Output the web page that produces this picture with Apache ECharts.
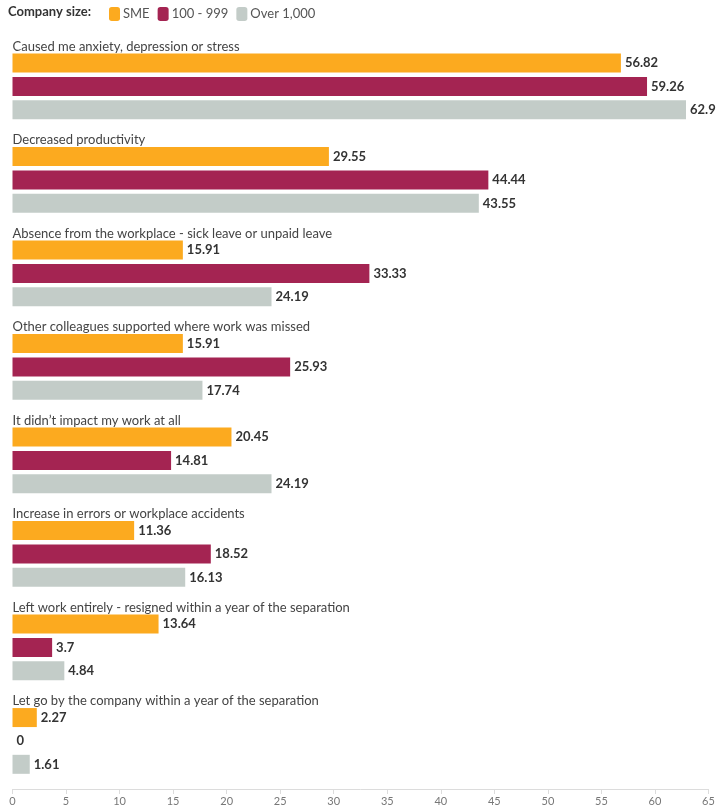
<!DOCTYPE html>
<html>
<head>
<meta charset="utf-8">
<script src="https://cdn.jsdelivr.net/npm/echarts@6/dist/echarts.min.js"></script>
<style>
  html, body { margin: 0; padding: 0; background: #fff; }
  #chart { width: 718px; height: 812px; }
</style>
</head>
<body>
<div id="chart"></div>
<script>
// Survey answers, grouped by company size
const categories = [
  'Caused me anxiety, depression or stress',
  'Decreased productivity',
  'Absence from the workplace - sick leave or unpaid leave',
  'Other colleagues supported where work was missed',
  'It didn\u2019t impact my work at all',
  'Increase in errors or workplace accidents',
  'Left work entirely - resigned within a year of the separation',
  'Let go by the company within a year of the separation'
];
const seriesNames = ['SME', '100 - 999', 'Over 1,000'];
const smeValues   = [56.82, 29.55, 15.91, 15.91, 20.45, 11.36, 13.64, 2.27];
const midValues   = [59.26, 44.44, 33.33, 25.93, 14.81, 18.52, 3.7, 0];
const largeValues = [62.9, 43.55, 24.19, 17.74, 24.19, 16.13, 4.84, 1.61];
const xTicks = { min: 0, max: 65, interval: 5 };

const colors = ['#FCAA1F', '#A42452', '#C3CCC8'];
const fontFamily = 'Lato, "Open Sans", sans-serif';

// Each group uses four rows: a title row followed by one row per company size
const ROWS_PER_GROUP = 4;
const rowIds = [];
for (let i = 0; i < categories.length * ROWS_PER_GROUP; i++) rowIds.push(String(i));

function toRows(values, seriesIndex) {
  return values.map((v, g) => [v, g * ROWS_PER_GROUP + 1 + seriesIndex]);
}

const allValues = [smeValues, midValues, largeValues];

const chart = echarts.init(document.getElementById('chart'));
chart.setOption({
  animation: false,
  textStyle: { fontFamily },
  graphic: [{
    type: 'text',
    left: 8,
    top: 5,
    style: {
      text: 'Company size:',
      font: 'bold 13px ' + fontFamily,
      fill: '#333'
    }
  }],
  legend: {
    left: 104,
    top: 2,
    itemWidth: 11,
    itemHeight: 14,
    itemGap: 8,
    icon: 'roundRect',
    textStyle: { fontSize: 13, color: '#555', fontFamily, padding: [0, 0, 0, -2] },
    data: seriesNames
  },
  grid: { left: 12.5, right: 9.5, top: 28, bottom: 36, containLabel: false },
  xAxis: {
    type: 'value',
    min: xTicks.min,
    max: xTicks.max,
    interval: xTicks.interval,
    offset: 13,
    splitLine: { show: false },
    axisLine: { show: true, lineStyle: { color: '#dcdcdc' } },
    axisTick: { show: true, length: 5, lineStyle: { color: '#dcdcdc' } },
    axisLabel: { color: '#777', fontSize: 11, fontFamily, margin: 7 }
  },
  yAxis: {
    type: 'category',
    inverse: true,
    data: rowIds,
    axisLine: { show: false },
    axisTick: { show: false },
    axisLabel: {
      inside: true,
      interval: 0,
      margin: 0,
      align: 'left',
      verticalAlign: 'top',
      lineHeight: 14,
      color: '#444',
      fontSize: 13,
      fontFamily,
      formatter: (val, idx) => (idx % ROWS_PER_GROUP === 0 ? categories[idx / ROWS_PER_GROUP] : '')
    },
    z: 10
  },
  series: seriesNames.map((name, i) => ({
    name,
    type: 'bar',
    barWidth: 19,
    barGap: '-100%',
    itemStyle: { color: colors[i] },
    label: {
      show: true,
      position: 'right',
      distance: 4,
      color: '#333',
      fontWeight: 'bold',
      fontSize: 13,
      fontFamily
    },
    data: toRows(allValues[i], i)
  }))
});
</script>
</body>
</html>
